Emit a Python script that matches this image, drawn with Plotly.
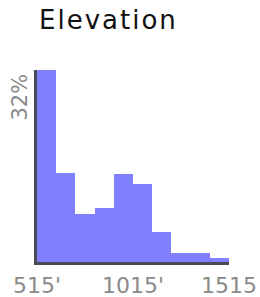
import plotly.graph_objects as go

# Data
bin_starts = [515, 615, 715, 815, 915, 1015, 1115, 1215, 1315, 1415]
bin_width = 100
percent = [32.0, 14.9, 8.0, 9.0, 14.6, 13.0, 5.0, 1.5, 1.5, 0.6]
x_tick_vals = [515, 1015, 1515]
x_tick_text = ["515'", "1015'", "1515"]
y_max = 32
y_label = "32%"
title_text = "Elevation"

FONT = "DejaVu Sans"
BAR = "#8080FF"
GRAY = "#8a8a8a"

fig = go.Figure()
fig.add_trace(go.Bar(
    x=bin_starts,
    y=percent,
    width=[bin_width] * len(bin_starts),
    offset=0,
    marker=dict(color=BAR, line=dict(width=0)),
    hoverinfo="skip",
))

fig.update_layout(
    width=260, height=297,
    margin=dict(l=37, r=31, t=70, b=35, pad=0, autoexpand=False),
    paper_bgcolor="white", plot_bgcolor="white",
    showlegend=False,
    bargap=0,
    title=dict(
        text='<span style="letter-spacing:2px">' + title_text + '</span>',
        x=39 / 260, xanchor="left", xref="container",
        y=1 - 11 / 297, yanchor="top", yref="container",
        font=dict(family=FONT, size=26, color="#111111"),
        automargin=False,
    ),
    xaxis=dict(
        range=[bin_starts[0], bin_starts[-1] + bin_width],
        tickvals=x_tick_vals, ticktext=x_tick_text,
        ticks="", showgrid=False, zeroline=False,
        showline=True, linecolor="#4a4a58", linewidth=3,
        tickfont=dict(family=FONT, size=22, color=GRAY),
        ticklabelstandoff=2,
        automargin=False, fixedrange=True,
    ),
    yaxis=dict(
        range=[0, y_max], showticklabels=False, ticks="",
        showgrid=False, zeroline=False,
        showline=True, linecolor="#4a4a58", linewidth=3,
        automargin=False, fixedrange=True,
    ),
    annotations=[dict(
        text=y_label, x=0, xref="paper", y=y_max, yref="y",
        xanchor="right", yanchor="top", xshift=-4, yshift=-2, textangle=-90,
        showarrow=False, font=dict(family=FONT, size=21, color=GRAY),
    )],
)

fig.write_html(
    "out.html",
    config={"displayModeBar": False},
    post_script="document.body.style.margin='0';document.body.style.overflow='hidden';",
)
